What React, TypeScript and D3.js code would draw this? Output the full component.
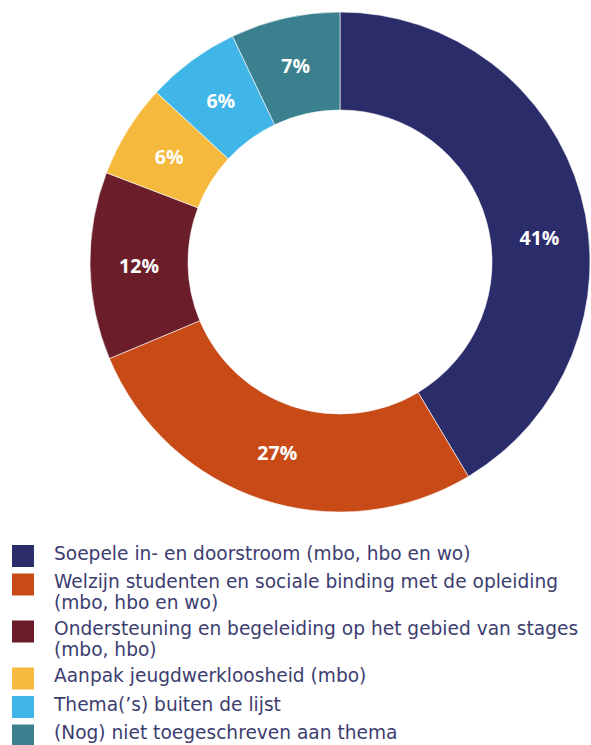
import * as d3 from "d3";

const categories = [
  ["Soepele in- en doorstroom (mbo, hbo en wo)"],
  ["Welzijn studenten en sociale binding met de opleiding", "(mbo, hbo en wo)"],
  ["Ondersteuning en begeleiding op het gebied van stages", "(mbo, hbo)"],
  ["Aanpak jeugdwerkloosheid (mbo)"],
  ["Thema(’s) buiten de lijst"],
  ["(Nog) niet toegeschreven aan thema"],
];
const shares = [41, 27, 12, 6, 6, 7];
const colors = ["#2b2c6a", "#c84a17", "#6b1e29", "#f5b93d", "#40b5e8", "#3b808f"];

const W = 591;
const H = 745;
const cx = 340;
const cy = 262;
const outerR = 250;
const innerR = 152;
const labelFont = "'Open Sans', sans-serif";
const legendFont = "'DejaVu Sans', sans-serif";
// the big slice's label sits a bit lower than its mid-angle in the original
const labelNudge = [0.147, 0, 0, 0, 0, 0];

export default function App() {
  const pie = d3
    .pie<number>()
    .sort(null)
    .value((d) => d);
  const arcs = pie(shares);
  const arc = d3.arc<d3.PieArcDatum<number>>().innerRadius(innerR).outerRadius(outerR);
  const labelR = (innerR + outerR) / 2;

  const lineH = 21;
  const rowGap = 28.5;
  let y = 553;
  const rows = categories.map((lines, i) => {
    const r = { lines, y, color: colors[i] };
    y += rowGap + (lines.length - 1) * 18.5;
    return r;
  });

  return (
    <svg width={W} height={H} style={{ position: "absolute", left: 0, top: 0 }}>
      <rect width={W} height={H} fill="#fff" />
      <g transform={`translate(${cx},${cy})`}>
        {arcs.map((a, i) => (
          <path key={i} d={arc(a)!} fill={colors[i]} stroke="#fff" strokeWidth={0.6} />
        ))}
        {arcs.map((a, i) => {
          const ang = (a.startAngle + a.endAngle) / 2 + labelNudge[i];
          const lx = labelR * Math.sin(ang);
          const ly = -labelR * Math.cos(ang);
          return (
            <text
              key={i}
              x={lx}
              y={ly}
              textAnchor="middle"
              dominantBaseline="central"
              fill="#fff"
              fontFamily={labelFont}
              fontWeight={700}
              fontSize={19.5}
            >
              {`${shares[i]}%`}
            </text>
          );
        })}
      </g>
      <g>
        {rows.map((r, i) => (
          <g key={i}>
            <rect x={12} y={r.y - 8} width={22} height={22} fill={r.color} />
            {r.lines.map((t, j) => (
              <text
                key={j}
                x={54}
                y={r.y + j * lineH}
                dominantBaseline="central"
                fill="#3c3d70"
                fontFamily={legendFont}
                fontSize={18.6}
              >
                {t}
              </text>
            ))}
          </g>
        ))}
      </g>
    </svg>
  );
}
